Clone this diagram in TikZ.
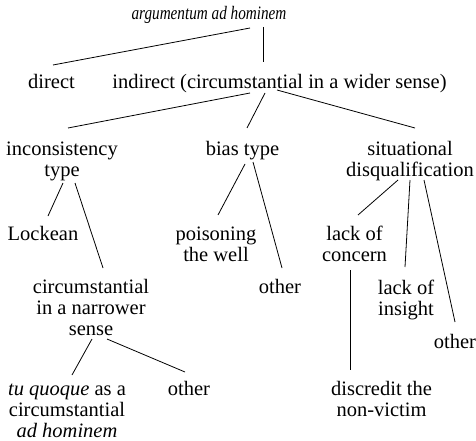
\documentclass[tikz,border=0pt]{standalone}
\usepackage{fontspec}
\setmainfont{Liberation Serif}
\usetikzlibrary{calc}

\begin{document}
\begin{tikzpicture}[x=1pt,y=-1pt,
  font=\fontsize{20.5}{21}\selectfont,
  term/.style={inner sep=0pt,anchor=base,align=center},
  branch/.style={line width=0.8pt},
]
  \useasboundingbox (0,0) rectangle (476,441);

  % nodes sit on the baseline of their last line
  \node[term,font=\fontsize{19}{20}\selectfont\itshape,xscale=0.8,transform shape] (root) at (209,20) {argumentum ad hominem};
  \node[term] (direct) at (51.5,89) {direct};
  \node[term] (indirect) at (279.5,89) {indirect (circumstantial in a wider sense)};
  \node[term] (incons) at (62,176) {inconsistency\\type};
  \node[term] (bias) at (242.5,155) {bias type};
  \node[term] (situ) at (410,176) {situational\\disqualification};
  \node[term] (locke) at (43,240) {Lockean};
  \node[term] (poison) at (216,261) {poisoning\\the well};
  \node[term] (otherbias) at (280,293) {other};
  \node[term] (concern) at (354.5,261) {lack of\\concern};
  \node[term] (insight) at (406,315) {lack of\\insight};
  \node[term] (othersitu) at (455,348) {other};
  \node[term] (narrow) at (91,335) {circumstantial\\in a narrower\\sense};
  \node[term] (tuquoque) at (67,437) {\textit{tu quoque} as a\\circumstantial\\\textit{ad hominem}};
  \node[term] (othernarrow) at (189,395) {other};
  \node[term] (discredit) at (381.5,416) {discredit the\\non-victim};

  % tree edges: parent/offset -- child/offset
  \foreach \a/\ax/\ay/\b/\bx/\by in {
      root/41/8/direct/1.5/-24,
      root/54/7/indirect/-16.5/-27,
      indirect/-29.5/4/incons/6/-48,
      indirect/-14.5/4/bias/4.5/-27,
      indirect/-2.5/1/situ/5/-48,
      incons/1/7/locke/5/-24,
      incons/13/7/narrow/12/-67,
      bias/2.5/9/poison/2/-46,
      bias/10.5/7/otherbias/2/-25,
      situ/-12/4/concern/3.5/-46,
      situ/0/4/insight/-1/-48,
      situ/14/4/othersitu/0/-26,
      concern/-4.5/9/discredit/-31.5/-46,
      narrow/1/4/tuquoque/5/-62,
      narrow/16/4/othernarrow/-4/-23} {
    \draw[branch] ($(\a.base)+(\ax,\ay)$) -- ($(\b.base)+(\bx,\by)$);
  }
\end{tikzpicture}
\end{document}
